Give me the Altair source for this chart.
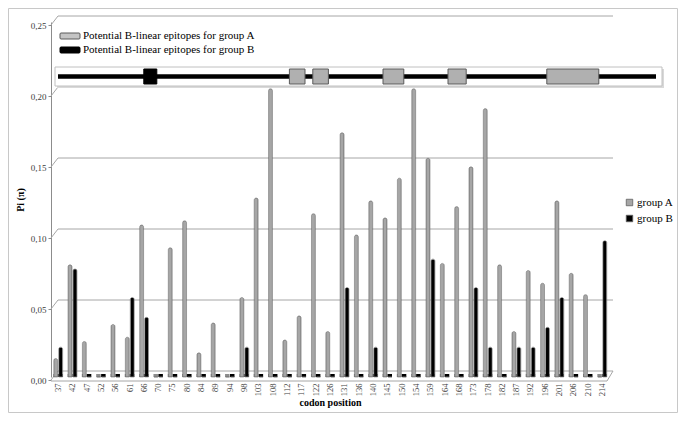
import altair as alt
import pandas as pd

# ---------------- data ----------------
codons = [37, 42, 47, 52, 56, 61, 66, 70, 75, 80, 84, 89, 94, 98, 103, 108, 112, 117, 122, 126,
          131, 136, 140, 145, 150, 154, 159, 164, 168, 173, 178, 182, 187, 192, 196, 201, 206, 210, 214]
group_a = [0.013, 0.079, 0.025, 0.0, 0.037, 0.028, 0.107, 0.0, 0.091, 0.110,
           0.017, 0.038, 0.0, 0.056, 0.126, 0.203, 0.026, 0.043, 0.115, 0.032,
           0.172, 0.100, 0.124, 0.112, 0.140, 0.203, 0.154, 0.080, 0.120, 0.148,
           0.189, 0.079, 0.032, 0.075, 0.066, 0.124, 0.073, 0.058, 0.0]
group_b = [0.021, 0.076, 0.0, 0.0, 0.0, 0.056, 0.042, 0.0, 0.0, 0.0,
           0.0, 0.0, 0.0, 0.021, 0.0, 0.0, 0.0, 0.0, 0.0, 0.0,
           0.063, 0.0, 0.021, 0.0, 0.0, 0.0, 0.083, 0.0, 0.0, 0.063,
           0.021, 0.0, 0.021, 0.021, 0.035, 0.056, 0.0, 0.0, 0.096]
groups = ["group A", "group B"]
grid_values = [0.0, 0.05, 0.10, 0.15, 0.20, 0.25]

# epitope map (residue ranges along the protein)
protein_length = 230
epi_a_start = [89, 98, 125, 150, 188]
epi_a_end = [95, 104, 133, 157, 208]
epi_b_start = [33]
epi_b_end = [38]
epi_legend_labels = ["Potential B-linear epitopes for group A",
                     "Potential B-linear epitopes for group B"]

# ---------------- tables ----------------
codon_labels = [str(c) for c in codons]
df = pd.DataFrame({
    "codon": codon_labels * 2,
    "group": [groups[0]] * len(codons) + [groups[1]] * len(codons),
    "pi": group_a + group_b,
})
grid_df = pd.DataFrame({"pi": grid_values})
zero_df = pd.DataFrame({"pi": [0.0]})
epi_a_df = pd.DataFrame({"s": epi_a_start, "e": epi_a_end})
epi_b_df = pd.DataFrame({"s": epi_b_start, "e": epi_b_end})
line_df = pd.DataFrame({"s": [0], "e": [protein_length]})
leg_df = pd.DataFrame({"label": epi_legend_labels, "row": [0, 1]})
one_df = pd.DataFrame({"k": [0]})

W, H = 558, 355
SERIF = "Liberation Serif"
yscale = alt.Scale(domain=[0, 0.25], nice=False, zero=True)
xscale = alt.Scale(paddingInner=0.35, paddingOuter=0.16)
xoff_scale = alt.Scale(domain=groups, paddingInner=0.12)
epi_scale = alt.Scale(domain=[0, protein_length], range=[7, 605], nice=False, zero=False)

yaxis = alt.Axis(
    title="Pi (π)", titleFont=SERIF, titleFontSize=10, titleFontWeight="bold",
    titleColor="#000000", titlePadding=5,
    values=[0, 0.05, 0.10, 0.15, 0.20, 0.25],
    labelExpr="replace(format(datum.value, '.2f'), '.', ',')",
    labelFont=SERIF, labelFontSize=9, labelColor="#404040",
    tickOffset=3, tickSize=3, tickColor="#8c8c8c", domainColor="#8c8c8c",
    grid=False, labelPadding=2,
)
xaxis = alt.Axis(
    title="codon position", titleFont=SERIF, titleFontSize=10, titleFontWeight="bold",
    titleColor="#000000", titlePadding=2,
    labelAngle=-90, labelFont=SERIF, labelFontSize=8.5, labelColor="#404040",
    labelPadding=6, ticks=False, domain=False, grid=False,
)
Ypi = alt.Y("pi:Q", scale=yscale, axis=yaxis)

# ---------------- layers ----------------
border = alt.Chart(one_df).mark_rect(fill="transparent", stroke="#c8c8c8", strokeWidth=1).encode(
    x=alt.value(-42.5), x2=alt.value(626.5), y=alt.value(-13.5), y2=alt.value(390.5))

wall_grid = alt.Chart(grid_df).mark_rule(color="#a6a6a6", strokeWidth=1, yOffset=-6, y2Offset=-6).encode(
    y=Ypi, x=alt.value(7), x2=alt.value(562))
diag = alt.Chart(grid_df).mark_rule(color="#a6a6a6", strokeWidth=1, yOffset=3, y2Offset=-6).encode(
    y=Ypi, y2=alt.Y2("pi:Q"), x=alt.value(0), x2=alt.value(7))
floor_front = alt.Chart(zero_df).mark_rule(color="#a6a6a6", strokeWidth=1, yOffset=4, y2Offset=4).encode(
    y=Ypi, x=alt.value(0), x2=alt.value(556))
floor_side = alt.Chart(zero_df).mark_rule(color="#a6a6a6", strokeWidth=1, yOffset=4, y2Offset=-6).encode(
    y=Ypi, y2=alt.Y2("pi:Q"), x=alt.value(556), x2=alt.value(562))

stub_layers = []
stub_colors = ["#8c8c8c", "#000000"]
for g, col in zip(groups, stub_colors):
    stub_layers.append(
        alt.Chart(df).transform_filter(alt.datum.group == g).transform_calculate(base="0")
        .mark_tick(thickness=3, size=4.5, yOffset=-1.5, opacity=1, color=col).encode(
            x=alt.X("codon:N", sort=codon_labels, scale=xscale, axis=None),
            xOffset=alt.XOffset("group:N", scale=xoff_scale),
            y=alt.Y("base:Q", scale=yscale, axis=yaxis),
        ))

bars = alt.Chart(df).mark_bar(cornerRadiusTopLeft=2, cornerRadiusTopRight=2, strokeWidth=0.6,
                              stroke="#6e6e6e", width=alt.RelativeBandSize(0.9)).encode(
    x=alt.X("codon:N", sort=codon_labels, scale=xscale, axis=xaxis),
    xOffset=alt.XOffset("group:N", scale=xoff_scale),
    y=Ypi,
    fill=alt.Fill("group:N", scale=alt.Scale(domain=groups, range=["#a6a6a6", "#000000"]),
                  legend=alt.Legend(title=None, orient="none", legendX=573, legendY=175,
                                    symbolType="square", symbolSize=42,
                                    symbolStrokeColor="#606060", symbolStrokeWidth=0.8,
                                    labelFont=SERIF, labelFontSize=11, labelColor="#000000",
                                    rowPadding=4, labelOffset=2)),
)

# epitope map box
box_shadow = alt.Chart(one_df).mark_rect(fill="#d9d9d9").encode(
    x=alt.value(6), x2=alt.value(613), y=alt.value(47), y2=alt.value(66))
box = alt.Chart(one_df).mark_rect(fill="white", stroke="#c0c0c0", strokeWidth=1).encode(
    x=alt.value(4), x2=alt.value(611), y=alt.value(45), y2=alt.value(64))
prot_line = alt.Chart(line_df).mark_rule(color="#000000", strokeWidth=4.5).encode(
    x=alt.X("s:Q", scale=epi_scale, axis=None), x2="e:Q", y=alt.value(54.5))
epi_a = alt.Chart(epi_a_df).mark_rect(fill="#b0b0b0", stroke="#5a5a5a", strokeWidth=1).encode(
    x=alt.X("s:Q", scale=epi_scale, axis=None), x2="e:Q", y=alt.value(47), y2=alt.value(62))
epi_b = alt.Chart(epi_b_df).mark_rect(fill="#000000", stroke="#000000", strokeWidth=1).encode(
    x=alt.X("s:Q", scale=epi_scale, axis=None), x2="e:Q", y=alt.value(47), y2=alt.value(62))

# epitope legend (top-left)
leg_layers = []
sym_fill = ["#c4c4c4", "#000000"]
sym_stroke = ["#5a5a5a", "#000000"]
row_y = [14, 28]
for i in range(2):
    sub = leg_df[leg_df["row"] == i]
    leg_layers.append(alt.Chart(sub).mark_rect(fill=sym_fill[i], stroke=sym_stroke[i], strokeWidth=1,
                                               cornerRadius=1).encode(
        x=alt.value(9), x2=alt.value(29), y=alt.value(row_y[i] - 3), y2=alt.value(row_y[i] + 3)))
    leg_layers.append(alt.Chart(sub).mark_text(align="left", baseline="middle", font=SERIF,
                                               fontSize=11, color="#000000").encode(
        x=alt.value(32), y=alt.value(row_y[i]), text="label:N"))

chart = alt.layer(
    border, wall_grid, diag, floor_front, floor_side, *stub_layers, bars,
    box_shadow, box, prot_line, epi_a, epi_b, *leg_layers
).resolve_scale(x="independent").properties(
    width=W, height=H,
    autosize=alt.AutoSizeParams(type="none"),
    padding={"left": 43, "top": 14, "right": 69, "bottom": 36},
    background="white",
).configure_view(stroke=None)

chart.save("out.html", embed_options={"renderer": "svg", "actions": False})
